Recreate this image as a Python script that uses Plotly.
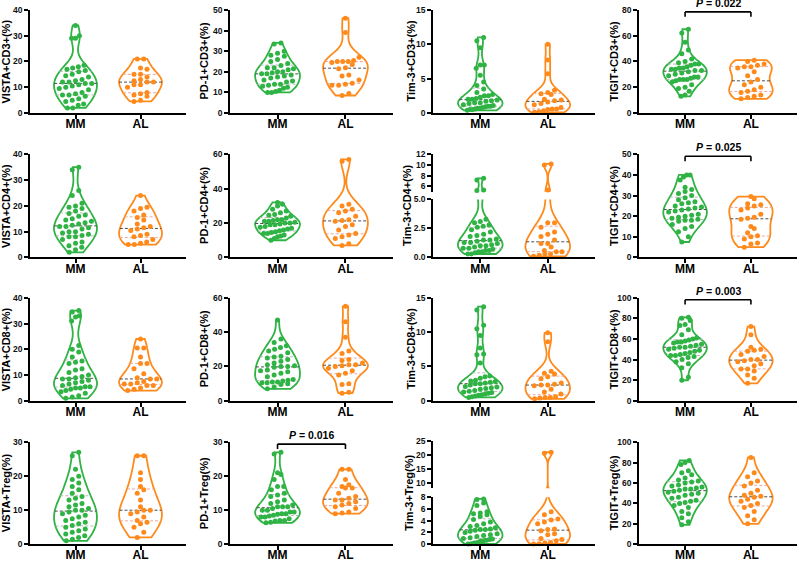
import numpy as np
import plotly.graph_objects as go

GROUPS = ["MM", "AL"]
GREEN = "#2FB344"
ORANGE = "#FF8A1C"

# ---------------- data (% positive cells) ----------------
vista_cd3_mm = [34, 30, 29, 29, 18.5, 18, 17.5, 17, 16.5, 16, 15, 14.5, 14, 13, 12.5, 12, 12, 11.5,
                11.5, 11, 10.5, 10, 9.5, 9, 8, 7.5, 7, 7, 6.5, 5.5, 5, 4.5, 3.5, 3, 2, 2]
vista_cd3_al = [21, 21, 17.5, 17, 15, 15, 14, 13, 12.5, 12, 12, 11, 11, 10, 8, 7.5, 7, 6.5, 5, 4.5]

pd1_cd3_mm = [34, 33.5, 30, 29, 28, 27.5, 26, 25, 24, 23, 22, 22, 21.5, 21, 20, 20, 19.5, 19, 19,
              18.5, 18, 17.5, 17, 16, 15.5, 15, 14, 14, 13.5, 13, 12.5, 12, 11, 10.5, 10, 10]
pd1_cd3_al = [46, 39, 27, 25.5, 25, 25, 25, 24.5, 23.5, 22, 21.5, 18.5, 18, 16, 14.5, 14, 13.5,
              13.5, 9.5, 8.5]

tim3_cd3_mm = [11, 10.5, 9.5, 7, 7, 6.5, 5.5, 4.5, 4, 3.5, 3, 2.7, 2.5, 2.5, 2.3, 2.1, 2, 2, 1.9,
               1.8, 1.7, 1.5, 1.5, 1.4, 1.2, 1.1, 1, 1, 0.9, 0.8, 0.7, 0.7, 0.6, 0.5, 0.5, 0.4]
tim3_cd3_al = [10, 7.7, 5.7, 3.3, 3, 2.8, 2.7, 2, 1.9, 1.8, 1.6, 1.4, 1.2, 0.8, 0.6, 0.6, 0.5, 0.3,
               0.2, 0.1]

tigit_cd3_mm = [65, 62, 55, 49, 46, 42, 40, 39, 38, 38, 37, 36, 35, 35, 34, 34, 33, 33, 32, 31, 30,
                29, 28, 28, 27, 26, 26, 26, 25, 24, 22, 20, 19, 17, 14, 13]
tigit_cd3_al = [41, 40, 38, 37, 36, 36, 35, 32, 29, 26, 24, 22, 20, 18, 17, 16, 14, 13, 12, 11]

vista_cd4_mm = [35, 34, 26, 24, 21, 20, 19.5, 19, 18, 17, 16.5, 16, 15, 14.5, 14, 13.5, 13, 12.5,
                12, 12, 11.5, 11, 10, 10, 9.5, 9, 8.5, 8, 8, 7, 6, 5.5, 4.5, 4, 3, 2]
vista_cd4_al = [24, 19.5, 19, 18, 16.5, 15.5, 14.5, 13, 12, 11.5, 11, 10.5, 9, 8.5, 8, 7, 6, 5.5,
                5, 5]

pd1_cd4_mm = [32, 31, 30, 28, 27, 26, 25, 24.5, 24, 23, 22, 22, 21.5, 21, 21, 20.5, 20, 20, 19.5,
              19, 19, 18, 17.5, 17, 16.5, 16, 15.5, 15, 14.5, 14, 14, 13, 12.5, 12, 11, 10]
pd1_cd4_al = [57, 56, 31, 30, 28, 27, 26, 24, 22, 21.5, 21, 19, 18, 16, 14, 13, 12, 11, 8, 7]

tim3_cd4_mm = [7.5, 7.2, 5.3, 5.2, 3.3, 3.1, 3.0, 2.8, 2.7, 2.6, 2.4, 2.2, 2.0, 1.9, 1.8, 1.6, 1.5,
               1.5, 1.4, 1.3, 1.3, 1.2, 1.1, 1.0, 1.0, 0.9, 0.8, 0.8, 0.7, 0.6, 0.6, 0.5, 0.5, 0.4,
               0.3, 0.3]
tim3_cd4_al = [10.2, 10, 5.3, 3.0, 3.0, 2.6, 2.2, 2.0, 1.8, 1.5, 1.2, 1.2, 0.9, 0.6, 0.5, 0.5, 0.3,
               0.3, 0.2, 0.1]

tigit_cd4_mm = [40, 40, 39, 37.5, 34, 33, 32, 31, 30, 29, 28, 27, 26.5, 26, 25, 24.5, 24, 23.5, 23,
                22.5, 22, 21, 20.5, 20, 19.5, 19, 18.5, 18, 18, 17.5, 16, 15, 14, 12.5, 10, 7.5]
tigit_cd4_al = [29.5, 28.5, 26, 25.5, 25, 24, 23, 21, 19.5, 19, 18.5, 15, 14, 12, 10.5, 10, 9, 7,
                6.5, 5]

vista_cd8_mm = [35, 34.5, 33, 32.5, 31, 21.5, 20, 19, 17, 15.5, 15, 14.5, 12.5, 12, 11, 10, 9.5, 9,
                8.5, 8.5, 8, 7.5, 7, 6.5, 6, 5.5, 5.5, 5, 5, 4.5, 4, 3.5, 3, 2, 1.5, 1]
vista_cd8_al = [24, 20.5, 20.5, 17, 14.5, 14.5, 12.5, 10.5, 9, 8.5, 8.5, 7.5, 7, 6.5, 6.5, 6, 6, 5,
                4.5, 4]

pd1_cd8_mm = [47, 36, 34, 32, 31, 30, 29, 28, 26, 25.5, 25, 24, 23, 22, 21, 20.5, 20, 20, 19.5, 18,
              17.5, 17, 16, 15, 14, 12.5, 12, 11.5, 11, 11, 10.5, 10.5, 10, 9.5, 8, 7]
pd1_cd8_al = [55, 46, 37, 29, 27.5, 24, 23.5, 22, 21, 21, 20.5, 20, 19, 17.5, 16, 15, 10, 9.5, 5,
              4.5]

tim3_cd8_mm = [13.7, 13.2, 11, 10.5, 9.5, 7.7, 6.8, 6.7, 5.5, 3.6, 3.5, 3.3, 3.0, 2.9, 2.8, 2.7,
               2.6, 2.5, 2.5, 2.3, 2.1, 2.0, 1.9, 1.8, 1.7, 1.5, 1.4, 1.3, 1.2, 1.1, 1.0, 0.9, 0.8,
               0.7, 0.6, 0.5]
tim3_cd8_al = [9.9, 8.6, 4.3, 4.0, 3.9, 3.5, 3.2, 2.6, 2.4, 2.3, 2.3, 2.2, 1.7, 1.3, 1.0, 0.6, 0.5,
               0.5, 0.4, 0.3]

tigit_cd8_mm = [81, 80, 78, 74, 73, 69, 64, 61, 60, 59, 58, 57, 57, 56, 55, 54, 53, 52, 52, 51, 50,
                49, 48, 47, 46, 45, 44, 44, 43, 42, 40, 38, 36, 32, 23, 20]
tigit_cd8_al = [72, 64, 52, 50, 49, 48, 45, 43, 40, 40, 39, 38, 36, 34, 31, 31, 29, 25, 22, 17]

vista_treg_mm = [27, 26, 22, 20, 19, 18, 17, 16, 15, 14, 13.5, 13, 12, 11.5, 11, 10.5, 10, 10, 9.5,
                 9, 8.5, 8, 7.5, 7, 6.5, 6, 5.5, 5, 4.5, 4, 3.5, 3, 2.5, 2, 1.5, 1]
vista_treg_al = [26, 26, 21, 19, 17, 16, 15, 13, 11, 10, 10, 9.5, 9, 8, 7, 6.5, 6, 5, 3.5, 2]

pd1_treg_mm = [27, 26.5, 21, 20.5, 19, 17, 17, 16, 15, 14.5, 14, 13, 12.5, 12, 11.5, 11, 11, 11,
               10.5, 10, 10, 9.5, 9.5, 9, 9, 8.8, 8.5, 8.3, 8, 8, 7.5, 7, 7, 6.8, 6.5, 6.3]
pd1_treg_al = [22, 22, 19, 17.5, 17, 16.5, 16.5, 15, 14, 13.5, 13, 13, 12.5, 12, 11.5, 11, 10.5,
               9.5, 9.2, 9]

tim3_treg_mm = [7.7, 7.6, 7.0, 6.6, 5.5, 5.3, 5.2, 5.0, 4.7, 4.2, 3.8, 3.5, 3.2, 3.0, 2.8, 2.6, 2.5,
                2.5, 2.4, 2.2, 2.0, 1.8, 1.6, 1.5, 1.3, 1.1, 1.0, 0.9, 0.8, 0.7, 0.6, 0.5, 0.3,
                0.2, 0.1, 0.05]
tim3_treg_al = [21, 20.6, 5.5, 5.0, 4.3, 4.1, 3.8, 3.5, 2.6, 2.5, 2.3, 1.8, 1.6, 1.0, 0.8, 0.6, 0.3,
                0.2, 0.1, 0.05]

tigit_treg_mm = [82, 80, 78, 72, 70, 68, 65, 63, 62, 61, 60, 58, 57, 56, 55, 54, 54, 53, 52, 51, 50,
                 49, 48, 46, 45, 43, 42, 41, 40, 38, 36, 32, 30, 26, 22, 19]
tigit_treg_al = [85, 70, 66, 62, 60, 57, 53, 50, 48, 47, 46, 44, 42, 40, 38, 36, 32, 28, 24, 20]

panel_titles = ["VISTA+CD3+(%)", "PD-1+CD3+(%)", "Tim-3+CD3+(%)", "TIGIT+CD3+(%)",
                "VISTA+CD4+(%)", "PD-1+CD4+(%)", "Tim-3+CD4+(%)", "TIGIT+CD4+(%)",
                "VISTA+CD8+(%)", "PD-1+CD8+(%)", "Tim-3+CD8+(%)", "TIGIT+CD8+(%)",
                "VISTA+Treg(%)", "PD-1+Treg(%)", "Tim-3+Treg(%)", "TIGIT+Treg(%)"]
panel_mm = [vista_cd3_mm, pd1_cd3_mm, tim3_cd3_mm, tigit_cd3_mm,
            vista_cd4_mm, pd1_cd4_mm, tim3_cd4_mm, tigit_cd4_mm,
            vista_cd8_mm, pd1_cd8_mm, tim3_cd8_mm, tigit_cd8_mm,
            vista_treg_mm, pd1_treg_mm, tim3_treg_mm, tigit_treg_mm]
panel_al = [vista_cd3_al, pd1_cd3_al, tim3_cd3_al, tigit_cd3_al,
            vista_cd4_al, pd1_cd4_al, tim3_cd4_al, tigit_cd4_al,
            vista_cd8_al, pd1_cd8_al, tim3_cd8_al, tigit_cd8_al,
            vista_treg_al, pd1_treg_al, tim3_treg_al, tigit_treg_al]

# y-axis tick values
y_ticks = [[0, 10, 20, 30, 40], [0, 10, 20, 30, 40, 50], [0, 5, 10, 15], [0, 20, 40, 60, 80],
           [0, 10, 20, 30, 40], [0, 20, 40, 60], None, [0, 10, 20, 30, 40, 50],
           [0, 10, 20, 30, 40], [0, 20, 40, 60], [0, 5, 10, 15], [0, 20, 40, 60, 80, 100],
           [0, 10, 20, 30], [0, 10, 20, 30], None, [0, 20, 40, 60, 80, 100]]
# broken axes: (lower ticks, lower labels, upper ticks, break value)
broken_axes = {
    6: ([0, 2.5, 5], ["0.0", "2.5", "5.0"], [6, 8, 10, 12], 5),
    14: ([0, 2, 4, 6, 8], ["0", "2", "4", "6", "8"], [10, 15, 20, 25], 8),
}
p_values = {3: "0.022", 7: "0.025", 11: "0.003", 13: "0.016"}

# ---------------- geometry ----------------
W, H = 800, 565
COL_PX = [(30, 186), (230, 393), (433, 595), (639, 797)]
ROW_PX = [(5, 110), (152, 257), (298, 403), (445, 549)]
BROKEN_PX = {6: ((152, 190), (198, 257)), 14: ((444, 492), (501, 549))}
TITLE_X = [6, 204, 411, 614]
TITLE_X_OVERRIDE = {6: 407, 14: 409}
X_RANGE = [-0.7, 1.7]
VWIDTH = 0.66
DX = 0.1
FONT = "Liberation Sans, Arial, sans-serif"


def px2x(p):
    return p / W


def px2y(p):
    return 1 - p / H


def silverman(v):
    v = np.asarray(v, float)
    n = len(v)
    sd = v.std(ddof=1)
    q1, q3 = np.percentile(v, [25, 75])
    b = 1.059 * min(sd, (q3 - q1) / 1.349) * n ** -0.2
    return max(b, (v.max() - v.min()) / 100)


def kde(v, bw, t):
    v = np.asarray(v, float)
    t = np.atleast_1d(t)[:, None]
    return np.exp(-0.5 * ((t - v[None, :]) / bw) ** 2).sum(axis=1) / (len(v) * bw * np.sqrt(2 * np.pi))


def swarm(vals, ybin_fn, halfwidth_fn):
    ys = np.sort(np.asarray(vals, float))
    groups, cur, start = [], [], None
    for y in ys:
        if start is None or y - start > ybin_fn(start):
            if cur:
                groups.append(cur)
            cur, start = [y], y
        else:
            cur.append(y)
    if cur:
        groups.append(cur)
    xs, yy = [], []
    for g in groups:
        k = len(g)
        d = DX
        if k > 1:
            hw = min(halfwidth_fn(y) for y in g)
            d = min(DX, max(2 * hw * 0.8, 0.12) / (k - 1))
        for j, y in enumerate(g):
            xs.append((j - (k - 1) / 2) * d)
            yy.append(y)
    return np.array(xs), np.array(yy)


fig = go.Figure()
layout = {}
shapes = []
annotations = []
ax = 0

for i in range(16):
    r, c = divmod(i, 4)
    c0, c1 = COL_PX[c]
    top_px, bot_px = ROW_PX[r]
    mm, al = panel_mm[i], panel_al[i]
    if i in broken_axes:
        lt, ll, ut, brk = broken_axes[i]
        (ut_top, ut_bot), (lt_top, lt_bot) = BROKEN_PX[i]
        segs = [(brk, ut[-1], ut_top, ut_bot, ut, [str(t) for t in ut], False),
                (0, lt[-1], lt_top, lt_bot, lt, ll, True)]
        top_px = ut_top

        def ybin(y, s=segs):
            for lo, hi, pt, pb, *_ in s:
                if lo <= y <= hi:
                    return (hi - lo) / (pb - pt) * 5.5
            return 0.5
    else:
        tv = y_ticks[i]
        segs = [(0, tv[-1], top_px, bot_px, tv, [str(t) for t in tv], True)]

        def ybin(y, s=segs):
            lo, hi, pt, pb = s[0][:4]
            return (hi - lo) / (pb - pt) * 5.5

    for (lo, hi, pt, pb, tv, tt, showx) in segs:
        ax += 1
        xn = "x" if ax == 1 else f"x{ax}"
        yn = "y" if ax == 1 else f"y{ax}"
        layout["xaxis" if ax == 1 else f"xaxis{ax}"] = dict(
            domain=[px2x(c0), px2x(c1)], range=X_RANGE, anchor=yn,
            showline=showx, linecolor="black", linewidth=1.6,
            ticks="outside" if showx else "", ticklen=4, tickwidth=1.6, tickcolor="black",
            tickvals=[0, 1], ticktext=GROUPS if showx else ["", ""], showticklabels=showx,
            ticklabelstandoff=-5,
            tickfont=dict(family=FONT, size=12, color="black", weight="bold"),
            showgrid=False, zeroline=False, fixedrange=True)
        layout["yaxis" if ax == 1 else f"yaxis{ax}"] = dict(
            domain=[px2y(pb), px2y(pt)], range=[lo, hi], anchor=xn,
            showline=True, linecolor="black", linewidth=1.6,
            ticks="outside", ticklen=4, tickwidth=1.6, tickcolor="black",
            tickvals=tv, ticktext=tt,
            tickfont=dict(family=FONT, size=8.5, color="#111", weight="bold"),
            showgrid=False, zeroline=False, fixedrange=True)

        for pos, vals, col, qcol in [(0, mm, GREEN, "#b9b9b9"), (1, al, ORANGE, "#eda89c")]:
            v = np.asarray(vals, float)
            if v.max() < lo:
                continue
            bw = silverman(v)
            fig.add_trace(go.Violin(
                x=[pos] * len(v), y=v, xaxis=xn, yaxis=yn, spanmode="hard", bandwidth=bw,
                width=VWIDTH, points=False, scalemode="width",
                line=dict(color=col, width=1.8), fillcolor="rgba(255,255,255,0)",
                box_visible=False, meanline_visible=False, showlegend=False, hoverinfo="skip"))
            span = np.linspace(v.min(), v.max(), 400)
            dmax = kde(v, bw, span).max()

            def halfw(y, v=v, bw=bw, dmax=dmax):
                return VWIDTH / 2 * kde(v, bw, y)[0] / dmax

            q1, med, q3 = np.percentile(v, [25, 50, 75])
            for q, lc in [(q1, qcol), (q3, qcol), (med, "#4d4d4d")]:
                if lo <= q <= hi:
                    hw = halfw(q)
                    fig.add_trace(go.Scatter(
                        x=[pos - hw, pos + hw], y=[q, q], xaxis=xn, yaxis=yn, mode="lines",
                        line=dict(color=lc, width=1, dash="3px,2px"),
                        showlegend=False, hoverinfo="skip"))
            xs, ys = swarm(v, ybin, halfw)
            keep = (ys >= lo) & (ys <= hi)
            fig.add_trace(go.Scatter(
                x=pos + xs[keep], y=ys[keep], xaxis=xn, yaxis=yn, mode="markers",
                marker=dict(size=5, color=col), cliponaxis=False,
                showlegend=False, hoverinfo="skip"))

    mid = (top_px + bot_px) / 2
    tx = TITLE_X_OVERRIDE.get(i, TITLE_X[c])
    annotations.append(dict(
        x=px2x(tx), y=px2y(mid), xref="paper", yref="paper", text=panel_titles[i],
        textangle=-90, showarrow=False, xanchor="center", yanchor="middle",
        font=dict(family=FONT, size=11, color="black", weight="bold")))

    if i in p_values:
        scale = (c1 - c0) / (X_RANGE[1] - X_RANGE[0])
        xa_px = c0 + (0 - X_RANGE[0]) * scale
        xb_px = c0 + (1 - X_RANGE[0]) * scale
        yb = top_px + 2
        for (x0, y0, x1, y1) in [(xa_px, yb, xb_px, yb), (xa_px, yb, xa_px, yb + 5),
                                 (xb_px, yb, xb_px, yb + 5)]:
            shapes.append(dict(type="line", xref="paper", yref="paper",
                               x0=px2x(x0), y0=px2y(y0), x1=px2x(x1), y1=px2y(y1),
                               line=dict(color="black", width=1.6)))
        annotations.append(dict(
            x=px2x((xa_px + xb_px) / 2), y=px2y(yb - 1), xref="paper", yref="paper",
            text=f"<i>P</i> = {p_values[i]}", showarrow=False, xanchor="center",
            yanchor="bottom", font=dict(family=FONT, size=10.5, color="black", weight="bold")))

fig.update_layout(
    width=W, height=H, margin=dict(l=0, r=0, t=0, b=0),
    paper_bgcolor="white", plot_bgcolor="white",
    shapes=shapes, annotations=annotations, showlegend=False, **layout)

fig.write_html("out.html", config={"displayModeBar": False},
               post_script="document.body.style.margin='0';document.body.style.overflow='hidden';")
